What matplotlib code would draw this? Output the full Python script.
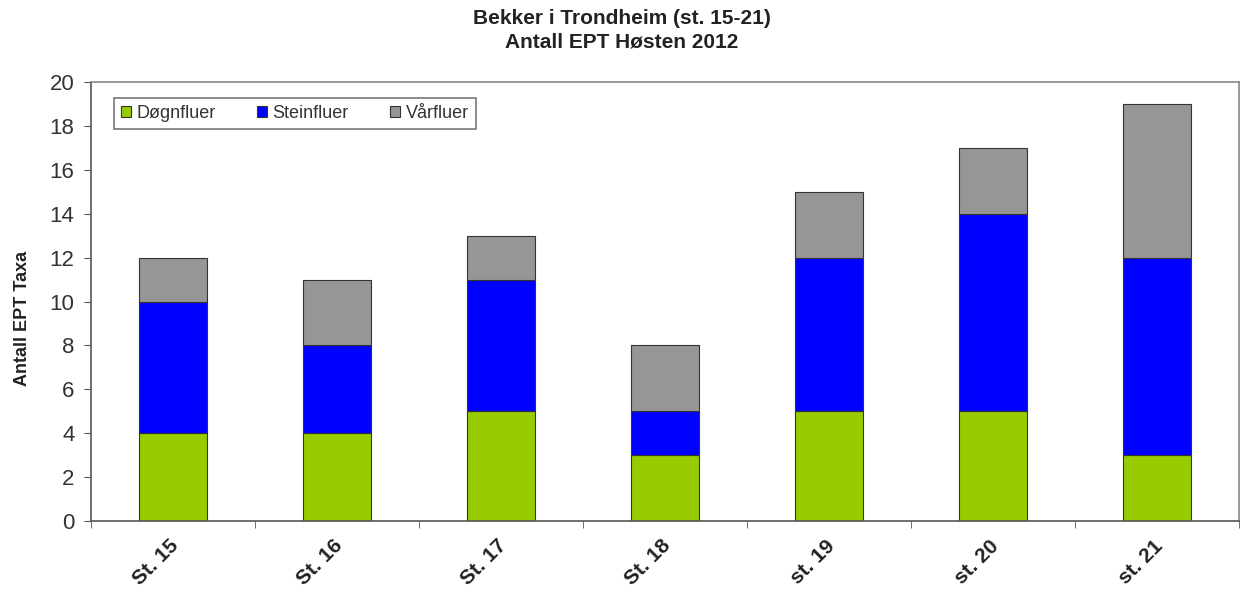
import matplotlib
matplotlib.use("Agg")
import matplotlib.pyplot as plt
import matplotlib.transforms as mtransforms
import numpy as np

plt.rcParams['font.family'] = ['Liberation Sans', 'DejaVu Sans']

categories = ["St. 15", "St. 16", "St. 17", "St. 18", "st. 19", "st. 20", "st. 21"]
dognfluer = [4, 4, 5, 3, 5, 5, 3]
steinfluer = [6, 4, 6, 2, 7, 9, 9]
varfluer = [2, 3, 2, 3, 3, 3, 7]
series_names = ["Døgnfluer", "Steinfluer", "Vårfluer"]
colors = ["#99CC00", "#0000FF", "#969696"]

fig = plt.figure(figsize=(12.44, 5.89), dpi=100)
ax = fig.add_axes([0.0732, 0.1154, 0.9228, 0.7454])

x = np.arange(len(categories))
w = 0.41
bottom = np.zeros(len(categories))
for vals, name, c in zip([dognfluer, steinfluer, varfluer], series_names, colors):
    ax.bar(x, vals, w, bottom=bottom, color=c, edgecolor="#333333", linewidth=0.8, label=name)
    bottom += np.array(vals)

ax.set_xlim(-0.5, len(categories) - 0.5)
ax.set_ylim(0, 20)
ax.set_yticks(np.arange(0, 21, 2))
ax.tick_params(axis='y', direction='out', length=5, labelsize=16, colors='#555555', labelcolor='#333333', pad=7)
ax.set_xticks(x)
ax.set_xticklabels(categories, rotation=45, ha='right', va='top', rotation_mode='anchor', fontsize=15,
                   fontweight='bold', color='#222222')
ax.tick_params(axis='x', length=0, pad=11)
offset = mtransforms.ScaledTranslation(-4 / 100, 0, fig.dpi_scale_trans)
for lbl in ax.get_xticklabels():
    lbl.set_transform(lbl.get_transform() + offset)
ax.set_xticks(np.arange(-0.5, len(categories) + 0.5, 1), minor=True)
ax.tick_params(axis='x', which='minor', direction='out', length=5, colors='#555555')

for s in ax.spines.values():
    s.set_color('#888888')
    s.set_linewidth(1.2)
ax.spines['left'].set_color('#555555')
ax.spines['bottom'].set_color('#555555')

ax.set_ylabel("Antall EPT Taxa", fontsize=13, fontweight='bold', color='#222222')
ax.yaxis.set_label_coords(-0.052, 0.462)

fig.text(0.5, 0.969, "Bekker i Trondheim (st. 15-21)", ha='center', va='center', fontsize=15, fontweight='bold', color='#222222')
fig.text(0.5, 0.929, "Antall EPT Høsten 2012", ha='center', va='center', fontsize=15, fontweight='bold', color='#222222')

leg = ax.legend(loc='upper left', bbox_to_anchor=(0.012, 0.985), ncol=3, fontsize=13, frameon=True, fancybox=False,
                edgecolor='#555555', handlelength=0.55, handleheight=0.55, handletextpad=0.3, columnspacing=2.3,
                borderpad=0.4)
leg.get_frame().set_linewidth(1.2)
for t in leg.get_texts():
    t.set_color('#333333')

fig.savefig("out.png", dpi=100)
